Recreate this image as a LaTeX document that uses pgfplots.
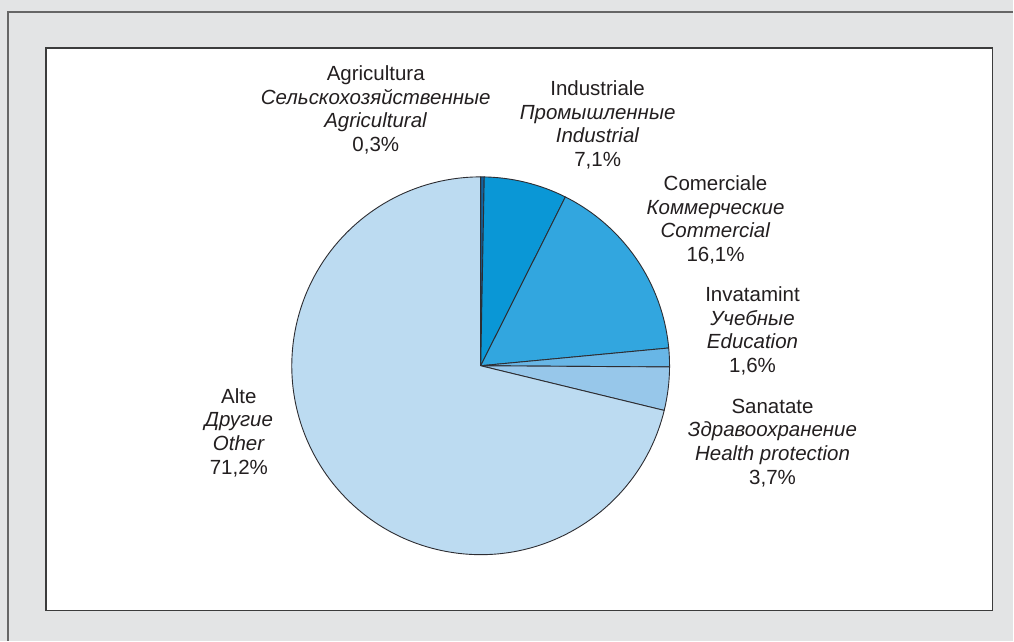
\documentclass[border=0pt]{standalone}
\usepackage{pgfplots}
\usepackage{pgfplotstable}
\pgfplotsset{compat=1.18}
\usepackage{fontspec}
\setmainfont{Liberation Sans}

\definecolor{bggray}{RGB}{227,228,229}
\definecolor{frameline}{RGB}{60,60,60}
\definecolor{pieline}{RGB}{45,45,50}
\definecolor{txt}{RGB}{35,31,32}
\definecolor{cAgr}{RGB}{18,100,160}
\definecolor{cInd}{RGB}{10,151,214}
\definecolor{cCom}{RGB}{50,166,223}
\definecolor{cEdu}{RGB}{104,182,230}
\definecolor{cHea}{RGB}{151,199,234}
\definecolor{cOth}{RGB}{188,219,241}

\tikzset{lbl/.style={font=\fontsize{20.5}{23.7}\selectfont, text=txt, align=center, inner sep=0pt}}

% share of each sector, percent, clockwise from the top
\pgfplotstableread{
pct   col
0.3   cAgr
7.1   cInd
16.1  cCom
1.6   cEdu
3.7   cHea
71.2  cOth
}\piedata

\begin{document}
\begin{tikzpicture}
\begin{axis}[
    x=1pt, y=1pt,
    xmin=0, xmax=1014,
    ymin=0, ymax=641,
    hide axis,
    clip=false,
]
% background and frames
\fill[bggray] (axis cs:0,0) rectangle (axis cs:1014,641);
\draw[gray!80!black, line width=1.3pt] (axis cs:8,0) -- (axis cs:8,629) -- (axis cs:1014,629);
\draw[frameline, line width=1.3pt, fill=white] (axis cs:46,30) rectangle (axis cs:993,593);

% pie slices from the table
\pgfplotsextra{
  \pgfplotstablegetrowsof{\piedata}
  \pgfmathtruncatemacro{\lastrow}{\pgfplotsretval-1}
  \gdef\angstart{90}
  \foreach \i in {0,...,\lastrow}{
    \pgfplotstablegetelem{\i}{pct}\of{\piedata}\let\slicepct\pgfplotsretval
    \pgfplotstablegetelem{\i}{col}\of{\piedata}\let\slicecol\pgfplotsretval
    \pgfmathsetmacro{\angend}{\angstart-3.6*\slicepct}
    \filldraw[fill=\slicecol, draw=pieline, line width=0.9pt, line join=round]
      (axis cs:481,275) -- ++(\angstart:189pt)
      arc[start angle=\angstart, end angle=\angend, radius=189pt] -- cycle;
    \xdef\angstart{\angend}
  }
}

% labels
\node[lbl] at (axis cs:376,531) {Agricultura\\\textit{Сельскохозяйственные}\\\textit{Agricultural}\\0,3\%};
\node[lbl] at (axis cs:598,516) {Industriale\\\textit{Промышленные}\\\textit{Industrial}\\7,1\%};
\node[lbl] at (axis cs:716,421) {Comerciale\\\textit{Коммерческие}\\\textit{Commercial}\\16,1\%};
\node[lbl] at (axis cs:753,310) {Invatamint\\\textit{Учебные}\\\textit{Education}\\1,6\%};
\node[lbl] at (axis cs:773,198) {Sanatate\\\textit{Здравоохранение}\\\textit{Health protection}\\3,7\%};
\node[lbl] at (axis cs:239,208) {Alte\\\textit{Другие}\\\textit{Other}\\71,2\%};
\end{axis}
\end{tikzpicture}
\end{document}
